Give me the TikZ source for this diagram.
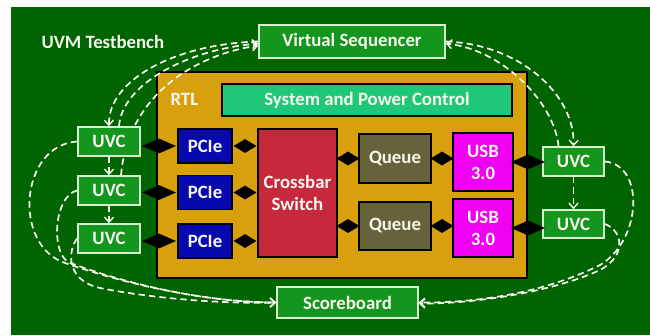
\documentclass[tikz,border=0pt]{standalone}
\usepackage{fontspec}
\setmainfont{Carlito}
\usetikzlibrary{arrows.meta,shapes.geometric}

\definecolor{bggreen}{RGB}{0,100,0}
\definecolor{tbgreen}{RGB}{20,150,30}
\definecolor{tbedge}{RGB}{215,240,210}
\definecolor{rtlgold}{RGB}{217,160,14}
\definecolor{mint}{RGB}{30,200,120}
\definecolor{pcieblue}{RGB}{8,8,175}
\definecolor{xbarred}{RGB}{200,40,60}
\definecolor{queueolive}{RGB}{102,98,58}
\definecolor{usbpink}{RGB}{240,0,240}
\definecolor{cream}{RGB}{248,248,238}

\pgfdeclarelayer{back}
\pgfdeclarelayer{mid}
\pgfsetlayers{back,mid,main}

\tikzset{
  txt/.style={text=cream, font=\bfseries\fontsize{18.8}{22}\selectfont, align=center},
  tbbox/.style={txt, draw=tbedge, fill=tbgreen, line width=1.6pt, inner sep=0pt},
  hwbox/.style={txt, draw=black, line width=1.6pt, inner sep=0pt},
  bigjoint/.style={diamond, fill=black, inner sep=0pt, minimum width=34pt, minimum height=15pt},
  smalljoint/.style={diamond, fill=black, inner sep=0pt, minimum width=23pt, minimum height=14pt},
  flow/.style={draw=cream, line width=1.7pt, dash pattern=on 6.5pt off 4pt},
  tip/.style={-{Straight Barb[length=5pt,width=9pt,line width=1.4pt]}}
}

\begin{document}
\begin{tikzpicture}[x=1pt,y=-1pt]
\useasboundingbox (0,0) rectangle (650,335);

\begin{pgfonlayer}{back}
  \fill[bggreen] (11,7) rectangle (650,335);
  \node[hwbox, fill=rtlgold, minimum width=370pt, minimum height=206pt] (rtl) at (342,175) {};
\end{pgfonlayer}

% testbench components
\node[txt, anchor=west] (tbtitle) at (38,42) {UVM Testbench};
\node[tbbox, minimum width=186pt, minimum height=33pt] (vs) at (352,41.5) {Virtual Sequencer};
\node[tbbox, minimum width=141pt, minimum height=31pt] (score) at (347.5,302.5) {Scoreboard};

\node[tbbox, minimum width=62pt, minimum height=29pt] (uvcL1) at (109,141.5) {UVC};
\node[tbbox, minimum width=62pt, minimum height=29pt] (uvcL2) at (109,190.5) {UVC};
\node[tbbox, minimum width=62pt, minimum height=29pt] (uvcL3) at (109,238.5) {UVC};
\node[tbbox, minimum width=61pt, minimum height=29pt] (uvcR1) at (573.5,161.5) {UVC};
\node[tbbox, minimum width=61pt, minimum height=28pt] (uvcR2) at (573.5,224) {UVC};

% design under test
\node[txt, anchor=west] (rtllabel) at (167,99) {RTL};
\node[hwbox, fill=mint, minimum width=290pt, minimum height=32pt] (spc) at (367,100) {System and Power Control};

\node[hwbox, fill=pcieblue, minimum width=54pt, minimum height=34pt] (pcie1) at (205,146) {PCIe};
\node[hwbox, fill=pcieblue, minimum width=54pt, minimum height=34pt] (pcie2) at (205,192.5) {PCIe};
\node[hwbox, fill=pcieblue, minimum width=54pt, minimum height=34pt] (pcie3) at (205,241) {PCIe};

\node[hwbox, fill=xbarred, minimum width=79pt, minimum height=128pt] (xbar) at (297.5,193) {Crossbar\\Switch};

\node[hwbox, fill=queueolive, minimum width=72pt, minimum height=49pt] (q1) at (395,158.5) {Queue};
\node[hwbox, fill=queueolive, minimum width=72pt, minimum height=48pt] (q2) at (395,226) {Queue};

\node[hwbox, fill=usbpink, minimum width=60pt, minimum height=58pt] (usb1) at (483,162) {USB\\3.0};
\node[hwbox, fill=usbpink, minimum width=60pt, minimum height=58pt] (usb2) at (483,228) {USB\\3.0};

% interface joints
\path (uvcL1.east |- pcie1.west) -- (pcie1.west) node[midway, bigjoint] (j1) {};
\path (uvcL2.east |- pcie2.west) -- (pcie2.west) node[midway, bigjoint] (j2) {};
\path (uvcL3.east |- pcie3.west) -- (pcie3.west) node[midway, bigjoint] (j3) {};
\path (pcie1.east) -- (xbar.west |- pcie1.east) node[midway, smalljoint] (j4) {};
\path (pcie2.east) -- (xbar.west |- pcie2.east) node[midway, smalljoint] (j5) {};
\path (pcie3.east) -- (xbar.west |- pcie3.east) node[midway, smalljoint] (j6) {};
\path (xbar.east |- q1.west) -- (q1.west) node[midway, smalljoint] (j7) {};
\path (xbar.east |- q2.west) -- (q2.west) node[midway, smalljoint] (j8) {};
\path (q1.east) -- (usb1.west |- q1.east) node[midway, smalljoint] (j9) {};
\path (q2.east) -- (usb2.west |- q2.east) node[midway, smalljoint] (j10) {};
\path (usb1.east) -- (uvcR1.west |- usb1.east) node[midway, bigjoint] (j11) {};
\path (usb2.east) -- (uvcR2.west |- usb2.east) node[midway, bigjoint] (j12) {};

% testbench traffic
\begin{pgfonlayer}{mid}
  % sequencer <-> left agents
  \draw[flow, tip] (vs.west) .. controls (175,44) and (108,80) .. (uvcL1.north);
  \draw[flow, tip] ([xshift=10pt]uvcL1.north) .. controls (122,85) and (185,50) .. ([yshift=-2pt]vs.west);
  \draw[flow, tip] ([xshift=12pt]uvcL2.north) .. controls (128,95) and (195,55) .. ([yshift=-4pt]vs.west);
  \draw[flow, tip] (uvcL1.south) -- (uvcL2.north);
  \draw[flow, tip] (uvcL2.south) -- (uvcL3.north);
  % sequencer <-> right agents
  \draw[flow, tip] (vs.east) .. controls (520,44) and (575,95) .. (uvcR1.north);
  \draw[flow, tip] ([xshift=-15pt]uvcR1.north) .. controls (555,105) and (505,50) .. ([yshift=-2pt]vs.east);
  \draw[flow, tip] (uvcR1.south) -- (uvcR2.north);
  % agents -> scoreboard
  \draw[flow, tip] (uvcL1.west) .. controls (20,145) and (12,245) .. (65,263)
                   .. controls (120,282) and (200,302) .. (score.west);
  \draw[flow, tip] (uvcL2.west) .. controls (55,195) and (50,250) .. (68,262)
                   .. controls (120,282) and (200,302) .. (score.west);
  \draw[flow, tip] (uvcL3.west) .. controls (68,250) and (65,280) .. (100,288)
                   .. controls (150,298) and (220,304) .. (score.west);
  \draw[flow, tip] (uvcR1.east) .. controls (645,165) and (642,240) .. (600,265)
                   .. controls (540,295) and (470,303) .. (score.east);
  \draw[flow, tip] (uvcR2.east) .. controls (622,230) and (628,255) .. (600,270)
                   .. controls (550,293) and (470,304) .. ([yshift=-1pt]score.east);
\end{pgfonlayer}
\end{tikzpicture}
\end{document}
